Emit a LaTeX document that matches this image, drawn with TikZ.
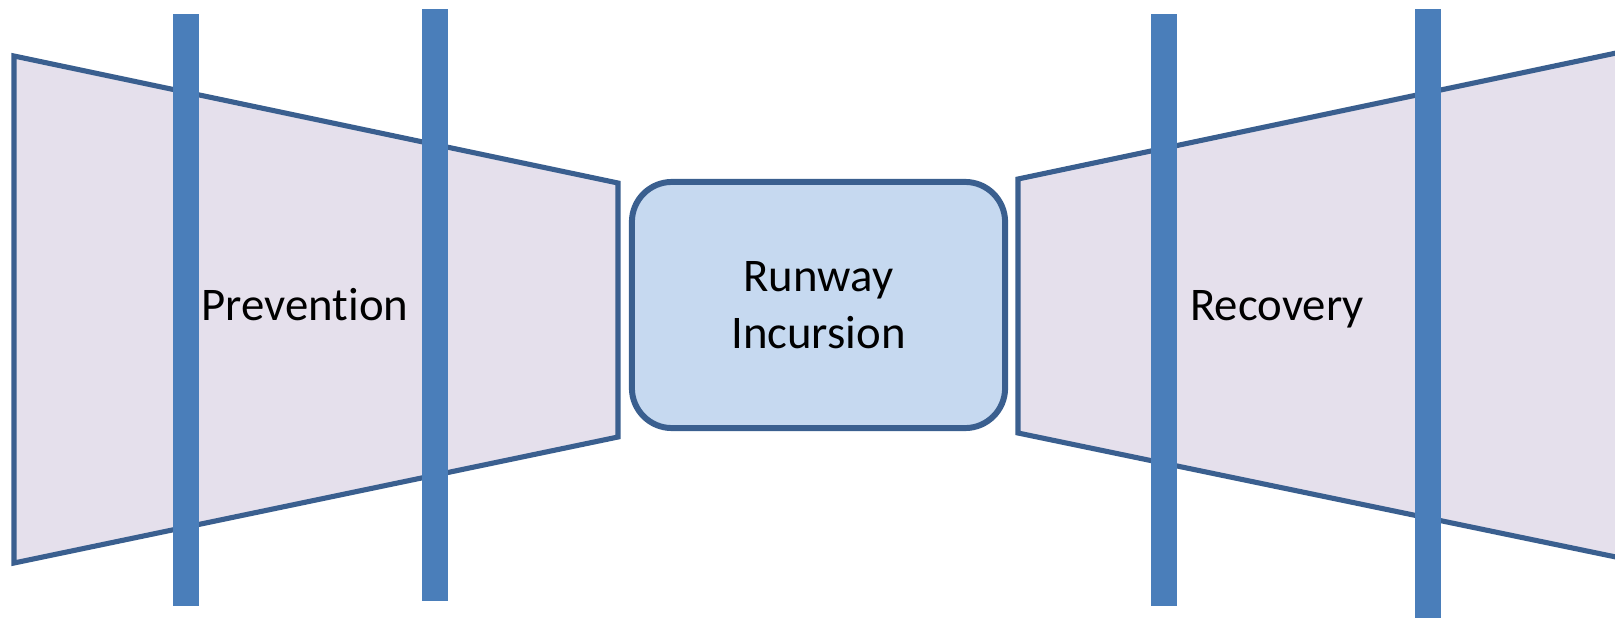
\documentclass[tikz,border=0pt]{standalone}
\usepackage{fontspec}
\setmainfont[Ligatures=NoCommon]{Carlito}
\usetikzlibrary{positioning}

\definecolor{wedgefill}{HTML}{E5E0EC}
\definecolor{wedgeline}{HTML}{3A5F8F}
\definecolor{barrierblue}{HTML}{4A7EBA}
\definecolor{eventfill}{HTML}{C6D9F0}

\begin{document}
\begin{tikzpicture}[x=0.01cm,y=-0.01cm,
  wedge/.style={fill=wedgefill,draw=wedgeline,line width=1.45pt,line join=miter},
  barrier/.style={fill=barrierblue,draw=none},
  event/.style={draw=wedgeline,fill=eventfill,line width=1.7pt,rounded corners=0.4cm,
    minimum width=3.73cm,minimum height=2.46cm,align=center},
  every node/.style={font=\fontsize{13.3}{16.2}\selectfont}]
\useasboundingbox (0,0) rectangle (1615,618);

% prevention side
\draw[wedge] (14,56) -- (618,183) -- (618,437) -- (14,563) -- cycle;
% recovery side, runs off the page
\begin{scope}
  \clip (0,0) rectangle (1615,618);
  \draw[wedge] (1018,179) -- (1640,48) -- (1640,562) -- (1018,433) -- cycle;
\end{scope}

% barriers
\fill[barrier] (173,14) rectangle (199,606);
\fill[barrier] (422,9) rectangle (448,601);
\fill[barrier] (1151,14) rectangle (1177,606);
\fill[barrier] (1415,9) rectangle (1441,618);

\node[event] (incursion) at (818.5,305) {Runway\\Incursion};
\node[anchor=base] (prevention) at (305,320) {Prevention};
\node[anchor=base] (recovery) at (1277,320) {Recovery};
\end{tikzpicture}
\end{document}
